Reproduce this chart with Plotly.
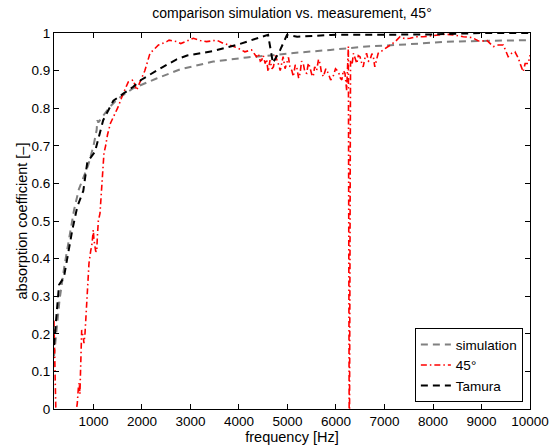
import plotly.graph_objects as go

# simulation (grey dashed)
freq_sim = [186, 250, 300, 400, 500, 600, 700, 800, 893, 1000, 1065, 1080, 1100, 1200, 1340, 1500,
            1820, 2300, 2780, 3470, 4160, 4700, 5050, 5880, 6630, 7500, 8280, 9000, 10000]
alpha_sim = [0.14, 0.22, 0.29, 0.38, 0.46, 0.53, 0.585, 0.62, 0.649, 0.70, 0.742, 0.768, 0.762, 0.78, 0.804, 0.825,
             0.853, 0.879, 0.903, 0.924, 0.935, 0.941, 0.946, 0.955, 0.964, 0.970, 0.977, 0.979, 0.981]

# Tamura (black dashed)
freq_tam = [186, 254, 290, 390, 460, 563, 666, 790, 873, 1030, 1200, 1410, 1630, 1820, 1980, 2300, 2715,
            2930, 3460, 3950, 4470, 4600, 4700, 4850, 4990, 5200, 5900, 7000, 7940, 9000, 10000]
alpha_tam = [0.17, 0.262, 0.33, 0.35, 0.405, 0.476, 0.538, 0.58, 0.657, 0.684, 0.768, 0.82, 0.84, 0.857, 0.875, 0.90, 0.93,
             0.94, 0.952, 0.968, 0.99, 0.995, 0.92, 0.955, 0.995, 0.99, 0.995, 0.995, 0.996, 1.0, 1.0]

# measurement 45 deg (red dash-dot)
freq_45 = [185, 200, 215, 240, 400, 600, 650, 666, 690, 707, 720, 740, 757, 790, 804, 825, 850, 873, 907, 942,
           970, 996, 1010, 1045, 1066, 1080, 1100, 1134, 1180, 1216, 1250, 1290, 1350, 1410, 1510, 1615, 1718,
           1820, 1890, 1960, 2060, 2165, 2340, 2510, 2560, 2715, 2800, 3060, 3200, 3330, 3540, 3680, 3810, 3990,
           4120, 4260, 4360, 4400, 4440, 4470, 4500, 4540, 4570, 4600, 4640, 4680, 4710, 4750, 4780, 4820, 4850,
           4880, 4910, 4950, 4980, 5020, 5050, 5090, 5120, 5160, 5190, 5230, 5260, 5290, 5325, 5360, 5395, 5430,
           5460, 5500, 5530, 5560, 5600, 5640, 5670, 5700, 5740, 5790, 5840, 5890, 5940, 5990, 6050, 6090, 6120,
           6150, 6185, 6220, 6255, 6275, 6300, 6330, 6360, 6400, 6430, 6460, 6495, 6530, 6560, 6600, 6630, 6670,
           6700, 6740, 6770, 6800, 6840, 6870, 6920, 6975, 7040, 7110, 7220, 7320, 7420, 7525, 7650, 7800, 7950,
           8075, 8250, 8420, 8625, 8800, 8970, 9105, 9245, 9345, 9450, 9550, 9620, 9690, 9760, 9795, 9860, 9900,
           9965, 10000]
alpha_45 = [0.235, 0.12, 0.0, -0.1, -0.2, -0.1, 0.0, 0.015, 0.06, 0.07, 0.04, 0.12, 0.21, 0.19, 0.175, 0.2, 0.26, 0.325, 0.387, 0.42,
            0.44, 0.476, 0.45, 0.42, 0.418, 0.458, 0.5, 0.52, 0.617, 0.68, 0.70, 0.73, 0.76, 0.777, 0.804, 0.84, 0.87,
            0.875, 0.848, 0.87, 0.90, 0.946, 0.968, 0.977, 0.981, 0.977, 0.972, 0.986, 0.98, 0.977, 0.981, 0.972, 0.968, 0.959,
            0.95, 0.955, 0.937, 0.945, 0.925, 0.928, 0.94, 0.919, 0.93, 0.897, 0.928, 0.905, 0.91, 0.94, 0.93, 0.915, 0.90,
            0.925, 0.937, 0.905, 0.919, 0.935, 0.91, 0.90, 0.884, 0.915, 0.91, 0.88, 0.893, 0.925, 0.919, 0.895, 0.893, 0.92,
            0.91, 0.89, 0.884, 0.91, 0.90, 0.93, 0.919, 0.895, 0.884, 0.905, 0.893, 0.875, 0.884, 0.905, 0.897, 0.88, 0.875,
            0.9, 0.893, 0.848, 0.964, -0.2, 0.928, 0.915, 0.946, 0.93, 0.919, 0.94, 0.937, 0.92, 0.91, 0.935, 0.946, 0.925,
            0.928, 0.945, 0.937, 0.91, 0.93, 0.946, 0.95, 0.955, 0.96, 0.968, 0.977, 0.99, 0.985, 0.986, 0.99, 0.99, 0.992,
            0.995, 0.997, 0.995, 0.99, 0.988, 0.977, 0.981, 0.964, 0.968, 0.968, 0.937, 0.946, 0.95, 0.933, 0.919, 0.897, 0.919,
            0.919, 0.941]

x_ticks = [1000, 2000, 3000, 4000, 5000, 6000, 7000, 8000, 9000, 10000]
y_ticks = [0, 0.1, 0.2, 0.3, 0.4, 0.5, 0.6, 0.7, 0.8, 0.9, 1]
y_tick_labels = ["0", "0.1", "0.2", "0.3", "0.4", "0.5", "0.6", "0.7", "0.8", "0.9", "1"]

FONT = "Liberation Sans, Arial, Helvetica, sans-serif"

fig = go.Figure()
fig.add_trace(go.Scatter(x=freq_sim, y=alpha_sim, mode="lines", name="simulation",
                         line=dict(color="#808080", width=2, dash="7px,5px")))
fig.add_trace(go.Scatter(x=freq_45, y=alpha_45, mode="lines", name="45°",
                         line=dict(color="#ff0000", width=1.6, dash="6px,3px,1.5px,3px")))
fig.add_trace(go.Scatter(x=freq_tam, y=alpha_tam, mode="lines", name="Tamura",
                         line=dict(color="#000000", width=2, dash="7px,5px")))

axis_common = dict(showgrid=False, zeroline=False, showline=True, linecolor="black", linewidth=1,
                   mirror="ticks", ticks="inside", ticklen=5, tickcolor="black", automargin=False,
                   tickfont=dict(family=FONT, size=13.5, color="black"))

fig.update_layout(
    width=552, height=447,
    margin=dict(l=54, r=22, t=33, b=38, autoexpand=False),
    paper_bgcolor="white", plot_bgcolor="white",
    font=dict(family=FONT, size=14, color="black"),
    title=dict(text="comparison simulation vs. measurement, 45°", x=(54 + 530) / 2 / 552, xref="container",
               xanchor="center", y=1 - 13 / 447, yref="container", yanchor="middle",
               font=dict(family=FONT, size=14, color="black")),
    xaxis=dict(range=[186, 10000], tickvals=x_ticks, ticktext=[str(v) for v in x_ticks],
               title=dict(text="frequency [Hz]", font=dict(family=FONT, size=14.5), standoff=0),
               **axis_common),
    yaxis=dict(range=[0, 1], tickvals=y_ticks, ticktext=y_tick_labels,
               title=dict(text="absorption coefficient [–]", font=dict(family=FONT, size=14.5), standoff=0),
               **axis_common),
    legend=dict(x=0.985, y=0.018, xanchor="right", yanchor="bottom", bgcolor="white",
                bordercolor="black", borderwidth=1, font=dict(family=FONT, size=13.5),
                tracegroupgap=0, itemwidth=30),
    showlegend=True,
)

fig.write_html("out.html", config={"displayModeBar": False},
               post_script="document.body.style.margin='0';document.body.style.padding='0';")
